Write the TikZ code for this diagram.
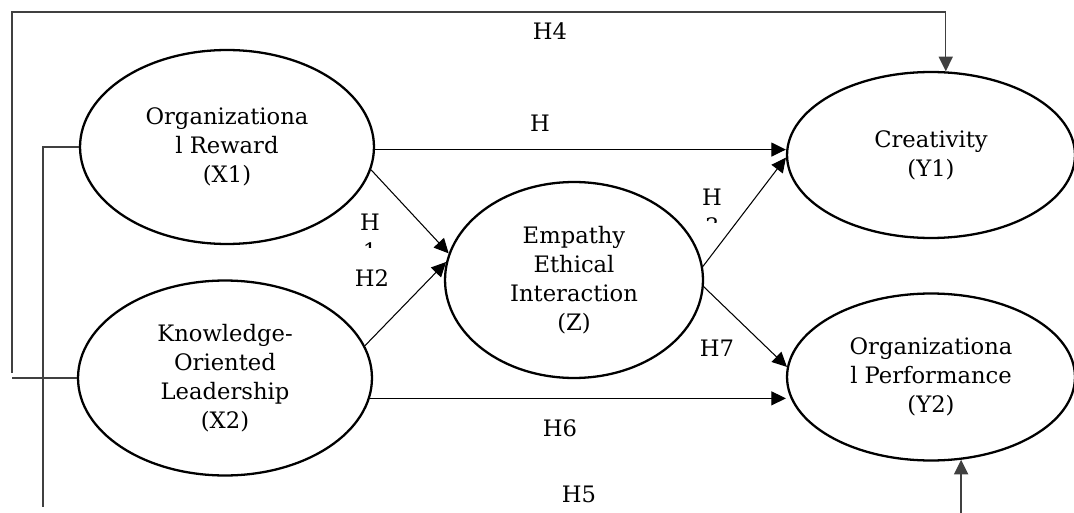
\documentclass[tikz,border=0pt]{standalone}
\usepackage{fontspec}
\setmainfont{DejaVu Serif}
\usetikzlibrary{shapes.geometric,arrows.meta}
\begin{document}
\begin{tikzpicture}[x=0.02cm,y=-0.02cm,
  txt/.style={font=\fontsize{12.9}{16.6}\selectfont},
  var/.style={draw, ellipse, line width=1.3pt, inner sep=0pt, align=center, txt},
  tip/.style={-{Triangle[length=8.3pt,width=8pt]}},
  conn/.style={line width=0.6pt, tip},
  outer/.style={line width=0.8pt, draw=black!75},
  lbl/.style={txt, inner sep=0pt, align=center}]
\useasboundingbox (0,0) rectangle (1074,513);

% constructs
\node[var, minimum width=5.88cm, minimum height=3.88cm] (X1) at (227,147) {Organizationa\\l Reward\\(X1)};
\node[var, minimum width=5.88cm, minimum height=3.9cm] (X2) at (225,378) {Knowledge-\\Oriented\\Leadership\\(X2)};
\node[var, minimum width=5.16cm, minimum height=3.92cm] (Z) at (574,280) {Empathy\\Ethical\\Interaction\\(Z)};
\node[var, minimum width=5.76cm, minimum height=3.32cm] (Y1) at (931,155) {Creativity\\(Y1)};
\node[var, minimum width=5.76cm, minimum height=3.34cm] (Y2) at (931,377) {Organizationa\\l Performance\\(Y2)};

% direct paths
\draw[conn] (X1.-1) -- (X1.-1 -| Y1.west);
\draw[conn] (X2.-8.7) -- (X2.-8.7 -| Y2.west);
\draw[conn] (X1.-9) -- (Z.168.3);
\draw[conn] (X2.13) -- (Z.172);
\draw[conn] (Z.6.6) -- (Y1.181.2);
\draw[conn] (Z.-3.5) -- (Y2.176);

% outer paths
\coordinate (h4a) at (12,382);
\coordinate (h4b) at (12,373);
\coordinate (h4c) at (12,12);
\draw[outer] (X2.west) -- (X2.west -| h4a);
\draw[outer, tip] (h4b) -- (h4c) -| (Y1.80.4);
\coordinate (h5a) at (43,150);
\coordinate (h5b) at (43,507);
\draw[outer] (X1.west) -- (X1.west -| h5a) -- (h5b);
\coordinate (h5c) at (960,513);
\draw[outer, tip] (Y2.-70.5 |- h5c) -- (Y2.-70.5);

% labels
\node[lbl] (lH4) at (550,31) {H4};
\node[lbl] (lH) at (540,123) {H};
\node[lbl] (lH2) at (372,278) {H2};
\node[lbl] (lH7) at (717,348) {H7};
\node[lbl] (lH6) at (560,428) {H6};
\node[lbl] (lH5) at (579,494) {H5};
\begin{scope}
  \clip (340,200) rectangle (400,247);
  \node[lbl] (lH1) at (370,237) {H\\1};
\end{scope}
\begin{scope}
  \clip (680,180) rectangle (740,222);
  \node[lbl] (lH3) at (712,212) {H\\3};
\end{scope}
\end{tikzpicture}
\end{document}
